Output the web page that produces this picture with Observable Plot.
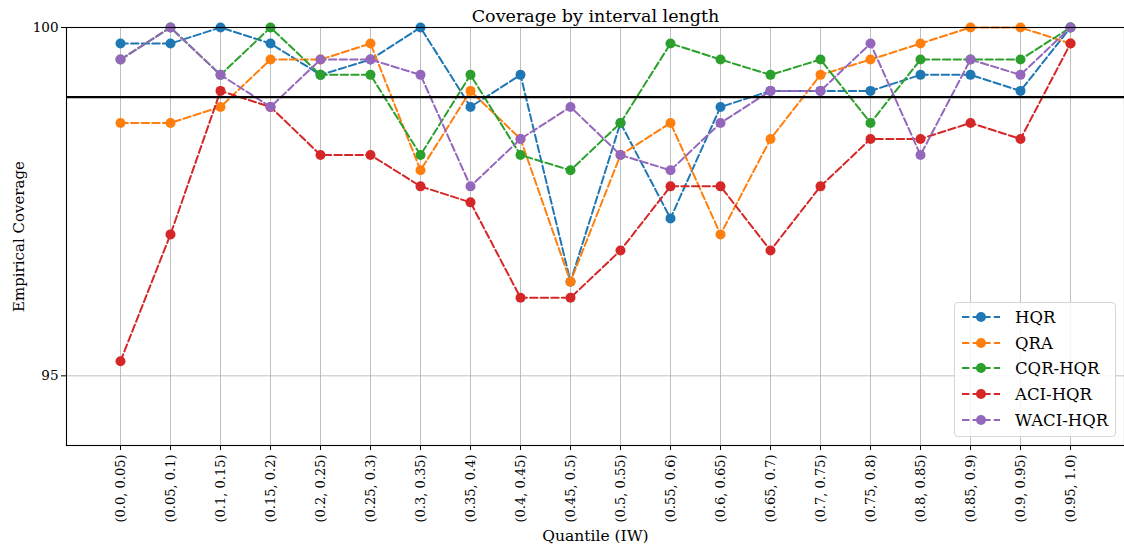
<!DOCTYPE html>
<html><head><meta charset="utf-8">
<script src="https://cdn.jsdelivr.net/npm/d3@7"></script>
<script src="https://cdn.jsdelivr.net/npm/@observablehq/plot@0.6"></script>
<style>
body{margin:0;background:#fff;}
#wrap{position:relative;width:1124px;height:554px;font-family:"DejaVu Serif",serif;}
#legend{position:absolute;left:954px;top:302px;width:162px;height:135px;border:1px solid #d6d6d6;border-radius:4px;background:rgba(255,255,255,0.85);box-sizing:border-box;}
.item{position:absolute;left:6px;height:20px;display:flex;align-items:center;font-size:16.5px;color:#000;white-space:nowrap;}
.item svg{margin-right:14px;}
</style></head><body><div id="wrap"></div>
<script>
const categories = ["(0.0, 0.05)","(0.05, 0.1)","(0.1, 0.15)","(0.15, 0.2)","(0.2, 0.25)","(0.25, 0.3)","(0.3, 0.35)","(0.35, 0.4)","(0.4, 0.45)","(0.45, 0.5)","(0.5, 0.55)","(0.55, 0.6)","(0.6, 0.65)","(0.65, 0.7)","(0.7, 0.75)","(0.75, 0.8)","(0.8, 0.85)","(0.85, 0.9)","(0.9, 0.95)","(0.95, 1.0)"];
const methods = ["HQR","QRA","CQR-HQR","ACI-HQR","WACI-HQR"];
const colors = ["#1f77b4","#ff7f0e","#2ca02c","#d62728","#9467bd"];
const hqr  = [99.77,99.77,100,99.77,99.32,99.54,100,98.86,99.32,96.35,98.63,97.26,98.86,99.09,99.09,99.09,99.32,99.32,99.09,100];
const qra  = [98.63,98.63,98.86,99.54,99.54,99.77,97.95,99.09,98.40,96.35,98.17,98.63,97.03,98.40,99.32,99.54,99.77,100,100,99.77];
const cqr  = [99.54,100,99.32,100,99.32,99.32,98.17,99.32,98.17,97.95,98.63,99.77,99.54,99.32,99.54,98.63,99.54,99.54,99.54,100];
const aci  = [95.21,97.03,99.09,98.86,98.17,98.17,97.72,97.49,96.12,96.12,96.80,97.72,97.72,96.80,97.72,98.40,98.40,98.63,98.40,99.77];
const waci = [99.54,100,99.32,98.86,99.54,99.54,99.32,97.72,98.40,98.86,98.17,97.95,98.63,99.09,99.09,99.77,98.17,99.54,99.32,100];
const yTicks = [95, 100];
const target = [99];
const titleText = "Coverage by interval length";
const xLabel = "Quantile (IW)";
const yLabel = "Empirical Coverage";

const series = [hqr, qra, cqr, aci, waci];
const rows = methods.flatMap((m, j) => categories.map((c, i) => ({method: m, cat: c, value: series[j][i]})));

const dash = "7.4,3.2";
const marks = [
  Plot.gridX(categories, {stroke: "#b0b0b0", strokeOpacity: 1, strokeWidth: 0.8}),
  Plot.gridY(yTicks, {stroke: "#b0b0b0", strokeOpacity: 1, strokeWidth: 0.8})
];
methods.forEach((m, j) => {
  const d = rows.filter(r => r.method === m);
  marks.push(Plot.line(d, {x: "cat", y: "value", stroke: colors[j], strokeWidth: 2, strokeDasharray: dash}));
  marks.push(Plot.dot(d, {x: "cat", y: "value", fill: colors[j], r: 5}));
});
marks.push(Plot.ruleY(target, {stroke: "black", strokeWidth: 2.2}));
marks.push(Plot.frame({stroke: "black", strokeWidth: 1.1}));
marks.push(Plot.axisX({tickRotate: -90, tickSize: 5, tickPadding: 4, fontSize: 13, label: null}));
marks.push(Plot.axisY(yTicks, {tickSize: 5, tickPadding: 3, fontSize: 13.5, label: null, tickFormat: d => String(d)}));
marks.push(Plot.text([titleText], {frameAnchor: "top", dy: -18, fontSize: 17.5, fill: "black"}));
marks.push(Plot.text([xLabel], {frameAnchor: "bottom", dy: 95, fontSize: 15.5, fill: "black"}));
marks.push(Plot.text([yLabel], {frameAnchor: "left", textAnchor: "middle", dx: -47, rotate: -90, fontSize: 15, fill: "black"}));

const chart = Plot.plot({
  width: 1124, height: 554,
  marginLeft: 66, marginRight: 0, marginTop: 27, marginBottom: 109,
  style: {fontFamily: "DejaVu Serif", fontSize: "13px", color: "black", background: "white"},
  x: {type: "point", domain: categories, padding: 0.94},
  y: {domain: [94, 100]},
  marks
});
const wrap = document.getElementById("wrap");
wrap.appendChild(chart);

const legend = document.createElement("div");
legend.id = "legend";
const tops = [4, 30, 55, 81, 107];
methods.forEach((m, j) => {
  const it = document.createElement("div");
  it.className = "item";
  it.style.top = tops[j] + "px";
  it.innerHTML = `<svg width="40" height="12"><line x1="1" y1="6" x2="39" y2="6" stroke="${colors[j]}" stroke-width="2" stroke-dasharray="7.4,3.2"/><circle cx="20" cy="6" r="5" fill="${colors[j]}"/></svg><span>${m}</span>`;
  legend.appendChild(it);
});
wrap.appendChild(legend);
</script></body></html>
